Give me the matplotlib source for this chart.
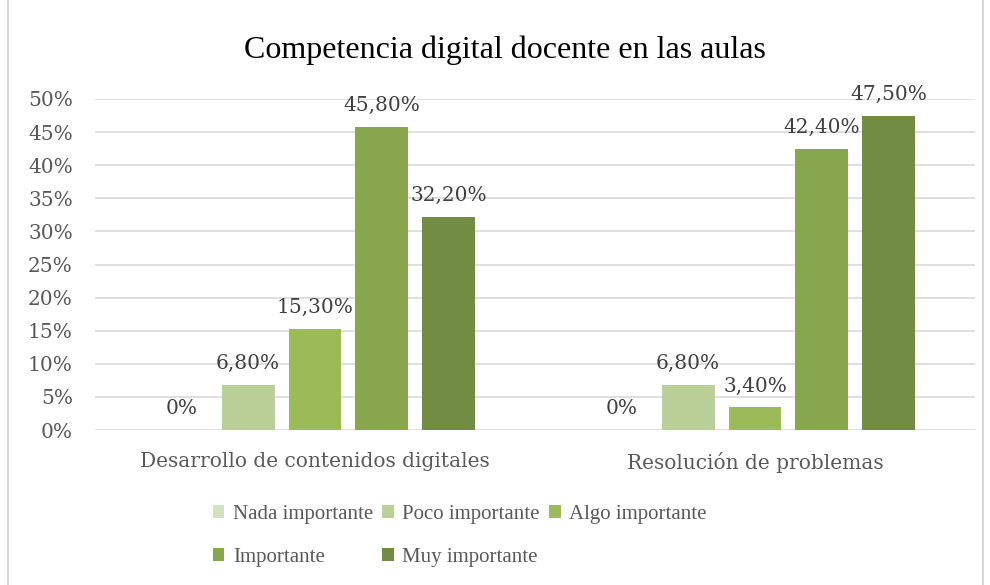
import matplotlib.pyplot as plt
import numpy as np
from matplotlib.patches import Rectangle

categories = ["Desarrollo de contenidos digitales", "Resolución de problemas"]
series = ["Nada importante", "Poco importante", "Algo importante", "Importante", "Muy importante"]
values = [
    [0.0, 0.0],
    [6.8, 6.8],
    [15.3, 3.4],
    [45.8, 42.4],
    [32.2, 47.5],
]
labels = [
    ["0%", "0%"],
    ["6,80%", "6,80%"],
    ["15,30%", "3,40%"],
    ["45,80%", "42,40%"],
    ["32,20%", "47,50%"],
]
colors = ["#D3E0C2", "#BACF98", "#9BBB59", "#88A64E", "#738C43"]

serif = ["DejaVu Serif"]
txt = "#595959"
fs = 14.5

fig = plt.figure(figsize=(9.9, 5.85), dpi=100)
fig.patches.append(Rectangle((0.008, -0.01), 0.985, 1.02, transform=fig.transFigure,
                             fill=False, edgecolor="#D0D0D0", linewidth=1.2))
ax = fig.add_axes([95 / 990, 1 - 430 / 585, 880 / 990, 331 / 585])

x = np.arange(len(categories))
width = 0.12
pitch = 0.152
bars = []
for i, (name, vals, col) in enumerate(zip(series, values, colors)):
    pos = x + (i - 2) * pitch
    bars.append(ax.bar(pos, vals, width, color=col, label=name, zorder=3))
    for p, v, lab in zip(pos, vals, labels[i]):
        ax.text(p, v + 1.8, lab, ha="center", va="bottom", fontsize=fs,
                family=serif, color="#404040")

ax.set_xlim(-0.5, 1.5)
ax.set_ylim(0, 50)
ax.set_yticks(np.arange(0, 51, 5))
ax.set_yticklabels([f"{t}%" for t in range(0, 51, 5)], family=serif, fontsize=fs, color=txt)
ax.set_xticks(x)
ax.set_xticklabels(categories, family=serif, fontsize=fs, color=txt)
ax.tick_params(axis="y", length=0, pad=16)
ax.tick_params(axis="x", length=0, pad=16)
ax.grid(axis="y", color="#D9D9D9", linewidth=1.2, zorder=0)
for s in ax.spines.values():
    s.set_visible(False)

fig.text(505 / 990, 1 - 50 / 585, "Competencia digital docente en las aulas", ha="center", va="center",
         fontsize=23, family="Liberation Serif", color="black")

# row-wise legend order
order = [0, 3, 1, 4, 2]
fig.legend([bars[i] for i in order], [series[i] for i in order],
           loc="center left", bbox_to_anchor=(213 / 990, 1 - 536 / 585), ncol=3, frameon=False,
           borderpad=0, borderaxespad=0,
           prop={"family": "Liberation Serif", "size": 15}, labelcolor=txt, handlelength=0.55,
           handleheight=0.55, handletextpad=0.4, columnspacing=0.45, labelspacing=1.15)

plt.savefig("out.png", dpi=100)
